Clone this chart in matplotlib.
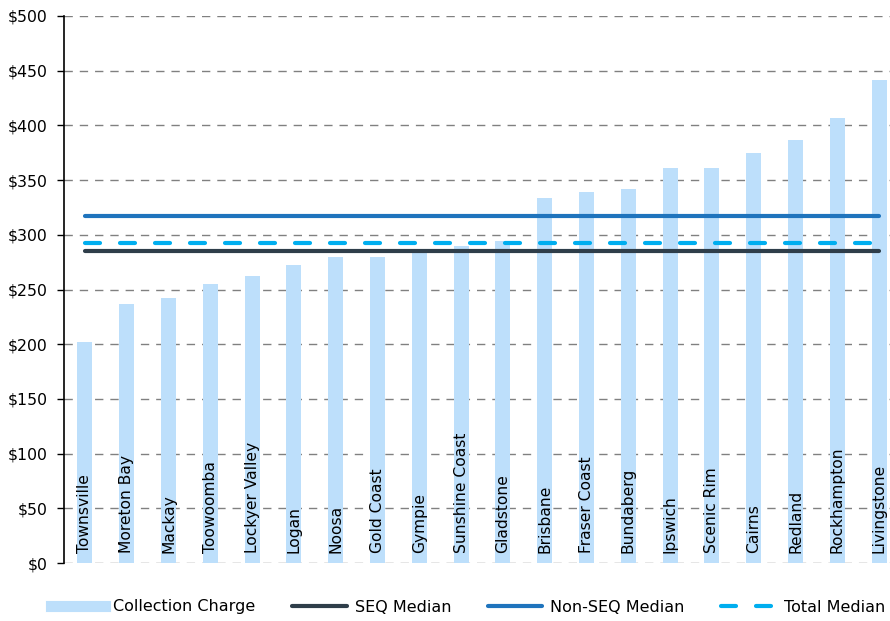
import matplotlib
matplotlib.use("Agg")
import matplotlib.pyplot as plt
from matplotlib.lines import Line2D

councils = ["Townsville", "Moreton Bay", "Mackay", "Toowoomba", "Lockyer Valley", "Logan",
            "Noosa", "Gold Coast", "Gympie", "Sunshine Coast", "Gladstone", "Brisbane",
            "Fraser Coast", "Bundaberg", "Ipswich", "Scenic Rim", "Cairns", "Redland",
            "Rockhampton", "Livingstone"]
collection_charge = [202, 237, 242, 255, 262, 272, 280, 280, 283, 290, 294, 334,
                     339, 342, 361, 361, 375, 387, 407, 441.5]
seq_median = 285
non_seq_median = 317
total_median = 292.5
yticks = [0, 50, 100, 150, 200, 250, 300, 350, 400, 450, 500]

plt.rcParams['font.family'] = ['DejaVu Sans']

fig = plt.figure(figsize=(8.9, 6.21), dpi=100)
ax = fig.add_axes([64/890, 58/621, 836/890, (563-16)/621])

x = list(range(len(councils)))
bar_c = "#BDDFFB"
ax.bar(x, collection_charge, width=0.36, color=bar_c, zorder=2)

for xi, name in zip(x, councils):
    ax.text(xi, 9, name, rotation=90, ha="center", va="bottom", fontsize=11.2,
            color="#000000", zorder=3)

ax.plot([x[0], x[-1]], [seq_median]*2, color="#2F3E4A", lw=3, solid_capstyle="round", zorder=4)
ax.plot([x[0], x[-1]], [non_seq_median]*2, color="#1F74BD", lw=3, solid_capstyle="round", zorder=4)
ax.plot([x[0], x[-1]], [total_median]*2, color="#00AEEF", lw=3, linestyle=(0, (3.6, 4.8)),
        dash_capstyle="round", zorder=4)

ax.set_xlim(-0.5, len(councils) - 0.5)
ax.set_ylim(0, 500)
ax.set_yticks(yticks)
ax.set_yticklabels([f"${v}" for v in yticks], fontsize=11.3)
ax.set_xticks([])
ax.yaxis.grid(True, color="#808080", linestyle=(0, (6, 5)), lw=1, zorder=1)
ax.set_axisbelow(True)
for s in ["top", "right", "bottom"]:
    ax.spines[s].set_visible(False)
ax.spines["left"].set_color("black")
ax.spines["left"].set_linewidth(1.2)
ax.tick_params(axis="y", length=5, width=1, color="black", pad=7)

handles = [
    Line2D([0], [0], color=bar_c, lw=8),
    Line2D([0], [0], color="#2F3E4A", lw=3, solid_capstyle="round"),
    Line2D([0], [0], color="#1F74BD", lw=3, solid_capstyle="round"),
    Line2D([0], [0], color="#00AEEF", lw=3, linestyle=(0, (3.6, 4.8)), dash_capstyle="round"),
]
labels = ["Collection Charge", "SEQ Median", "Non-SEQ Median", "Total Median"]
fig.legend(handles, labels, loc="center", bbox_to_anchor=(468/890, 1 - 607/621), ncol=4,
           frameon=False, fontsize=11.5, handlelength=3.4, columnspacing=2.3,
           handletextpad=0.5, borderaxespad=0, borderpad=0)

fig.savefig("out.png", dpi=100)
